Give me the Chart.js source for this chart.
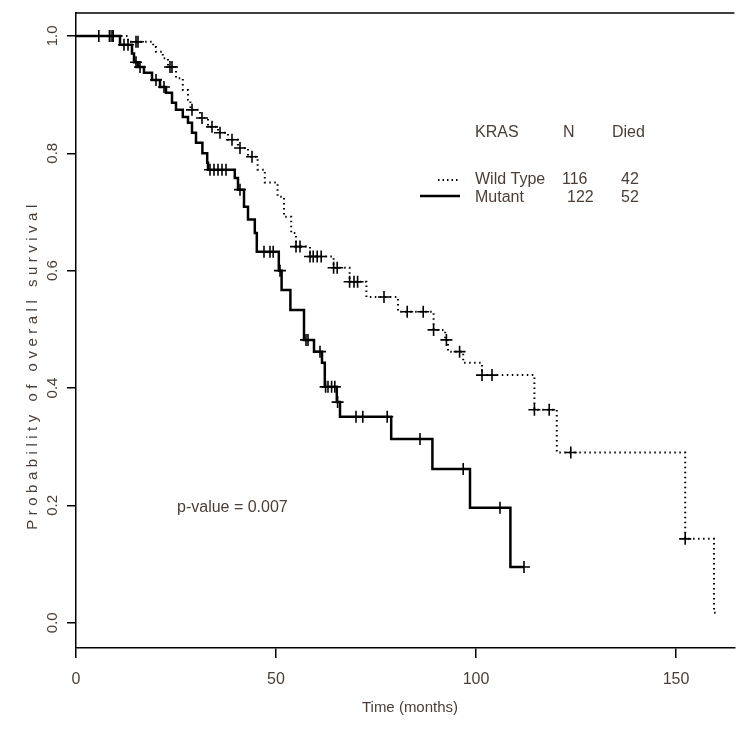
<!DOCTYPE html>
<html>
<head>
<meta charset="utf-8">
<script src="https://cdn.jsdelivr.net/npm/chart.js@4"></script>
<style>
  html, body { margin: 0; padding: 0; background: #fff; }
  #wrap { width: 742px; height: 741px; }
</style>
</head>
<body>
<div id="wrap"><canvas id="km-chart"></canvas></div>
<script>
// Kaplan-Meier steps: time (months) of each drop and survival after it
var wt_times = [0, 13, 19.3, 20, 21.7, 23, 25, 26.7, 28, 28.6, 31, 33, 35.5, 38, 40.5, 43, 45.4, 47.2, 50.4, 52, 53.8, 55, 58.5, 64.4, 68.4, 72.6, 80.5, 89.4, 92.3, 93, 96.8, 101.5, 114.6, 120.2, 152.3, 159.5, 160];
var wt_surv  = [1, 0.99, 0.981, 0.973, 0.962, 0.947, 0.928, 0.908, 0.891, 0.874, 0.86, 0.845, 0.835, 0.823, 0.809, 0.794, 0.772, 0.75, 0.726, 0.692, 0.664, 0.641, 0.624, 0.605, 0.581, 0.555, 0.53, 0.499, 0.482, 0.462, 0.443, 0.422, 0.363, 0.29, 0.143, 0.017, 0.017];
var wt_censor = [8.4, 9.3, 15, 15.5, 23.5, 24, 29, 31.5, 34, 36, 39, 41, 44, 55, 56, 58.5, 59.3, 60.3, 61.3, 64.4, 65.3, 68.4, 69.5, 70.4, 77, 82.8, 86.8, 89.4, 92.6, 95.9, 101.5, 104, 114.6, 118.3, 123.7, 152.3];

var mut_times = [0, 11, 14, 14.5, 15.5, 17, 19, 21, 22.5, 24, 25, 26.7, 28, 29, 30, 31.6, 32.8, 33, 39.7, 40.5, 42, 43, 44.7, 45.2, 50.7, 51.4, 53.6, 57, 59.5, 61.5, 62.2, 65.2, 66, 78.8, 89.1, 98.5, 108.6, 112];
var mut_surv  = [1, 0.985, 0.97, 0.955, 0.947, 0.937, 0.925, 0.913, 0.903, 0.886, 0.874, 0.862, 0.852, 0.835, 0.818, 0.8, 0.784, 0.772, 0.758, 0.738, 0.709, 0.687, 0.664, 0.632, 0.6, 0.567, 0.533, 0.482, 0.462, 0.443, 0.402, 0.376, 0.351, 0.313, 0.262, 0.196, 0.095, 0.095];
var mut_censor = [5.7, 8.4, 9, 12, 13, 15, 16, 20, 22, 33.5, 34.5, 35.5, 36.5, 37.5, 41, 47, 48.5, 49.3, 51, 57.5, 58, 61, 62.4, 63, 63.9, 64.7, 65.4, 70, 71.7, 77.8, 86, 96.8, 106, 112];

var y_ticks = [0, 0.2, 0.4, 0.6, 0.8, 1.0];
var x_ticks = [0, 50, 100, 150];

var legend_rows = [
  { name: "Wild Type", n: "116", died: "42", dash: [1.5, 3] },
  { name: "Mutant", n: "122", died: "52", dash: [] },
];

var FONT = "'Liberation Sans Narrow', 'Liberation Sans', Arial, sans-serif";
var TXT = "#4a3e36";

function pairs(times, surv) {
  return times.map((t, i) => ({ x: t, y: surv[i] }));
}

function surv_at(times, surv, t) {
  var s = surv[0];
  for (var i = 0; i < times.length; i++) {
    if (times[i] <= t) s = surv[i];
  }
  return s;
}

function censor_points(ctimes, times, surv) {
  return ctimes.map((t) => ({ x: t, y: surv_at(times, surv, t) }));
}

var extras = {
  id: "extras",
  afterDraw(chart) {
    var ctx = chart.ctx;
    var a = chart.chartArea;
    var ys = chart.scales.y;
    ctx.save();
    // box top
    ctx.strokeStyle = "#000";
    ctx.lineWidth = 1.5;
    ctx.beginPath();
    ctx.moveTo(a.left, a.top);
    ctx.lineTo(a.right, a.top);
    ctx.stroke();

    ctx.fillStyle = TXT;
    ctx.font = "15px " + FONT;
    ctx.textAlign = "center";
    ctx.textBaseline = "middle";
    // rotated y tick labels
    y_ticks.forEach((v) => {
      ctx.save();
      ctx.translate(53, ys.getPixelForValue(v));
      ctx.rotate(-Math.PI / 2);
      ctx.fillText(v.toFixed(1), 0, 0);
      ctx.restore();
    });
    // y title
    ctx.save();
    ctx.translate(33, 365);
    ctx.rotate(-Math.PI / 2);
    ctx.font = "15px " + FONT;
    if ("letterSpacing" in ctx) ctx.letterSpacing = "4.5px";
    ctx.fillText("Probability of overall survival", 0, 0);
    ctx.restore();

    // x title
    ctx.font = "15px " + FONT;
    ctx.fillText("Time (months)", 410, 708);

    // p-value
    ctx.textAlign = "left";
    ctx.font = "16px " + FONT;
    ctx.fillText("p-value = 0.007", 177, 508);

    // legend
    ctx.fillText("KRAS", 475, 133);
    ctx.fillText("N", 563, 133);
    ctx.fillText("Died", 612, 133);
    legend_rows.forEach((r, i) => {
      var y = 180 + i * 18;
      ctx.fillStyle = TXT;
      ctx.fillText(r.name, 475, y);
      ctx.fillText(r.n, i === 0 ? 562 : 567, y);
      ctx.fillText(r.died, 621, y);
      ctx.strokeStyle = "#000";
      ctx.lineWidth = i === 0 ? 2 : 2.5;
      ctx.setLineDash(r.dash);
      ctx.beginPath();
      ctx.moveTo(i === 0 ? 438 : 420, y - (i === 0 ? 0 : 2));
      ctx.lineTo(460, y - (i === 0 ? 0 : 2));
      ctx.stroke();
    });
    ctx.restore();
  },
};

function load_chart() {
  var el = document.getElementById("km-chart");
  new Chart(el, {
    type: "line",
    data: {
      datasets: [
        {
          label: "Wild Type",
          data: pairs(wt_times, wt_surv),
          stepped: "before",
          borderColor: "#000",
          borderWidth: 2,
          borderDash: [1.5, 3.5],
          pointRadius: 0,
          fill: false,
        },
        {
          label: "Mutant",
          data: pairs(mut_times, mut_surv),
          stepped: "before",
          borderColor: "#000",
          borderWidth: 2.5,
          pointRadius: 0,
          fill: false,
        },
        {
          label: "wt censored",
          data: censor_points(wt_censor, wt_times, wt_surv),
          showLine: false,
          pointStyle: "cross",
          pointRadius: 6,
          borderColor: "#000",
          borderWidth: 1.6,
        },
        {
          label: "mut censored",
          data: censor_points(mut_censor, mut_times, mut_surv),
          showLine: false,
          pointStyle: "cross",
          pointRadius: 6,
          borderColor: "#000",
          borderWidth: 1.6,
        },
      ],
    },
    options: {
      responsive: true,
      maintainAspectRatio: false,
      animation: { duration: 0 },
      layout: { padding: { top: 13, right: 0, left: 0, bottom: 0 } },
      plugins: { legend: { display: false }, tooltip: { enabled: false } },
      scales: {
        x: {
          type: "linear",
          min: 0,
          max: 164.6,
          afterBuildTicks: (s) => { s.ticks = x_ticks.map((v) => ({ value: v })); },
          afterFit: (s) => { s.height = 93; },
          border: { display: true, color: "#000", width: 1.5 },
          grid: { drawOnChartArea: false, drawTicks: true, tickLength: 10, color: "#000", lineWidth: 1.5 },
          ticks: { color: TXT, font: { family: FONT, size: 16 }, padding: 12, maxRotation: 0 },
        },
        y: {
          type: "linear",
          min: -0.043,
          max: 1.039,
          afterBuildTicks: (s) => { s.ticks = y_ticks.map((v) => ({ value: v })); },
          afterFit: (s) => { s.width = 76; },
          border: { display: true, color: "#000", width: 1.5 },
          grid: { drawOnChartArea: false, drawTicks: true, tickLength: 9, color: "#000", lineWidth: 1.5 },
          ticks: { callback: () => "" },
        },
      },
    },
    plugins: [extras],
  });
}

load_chart();
</script>
</body>
</html>
